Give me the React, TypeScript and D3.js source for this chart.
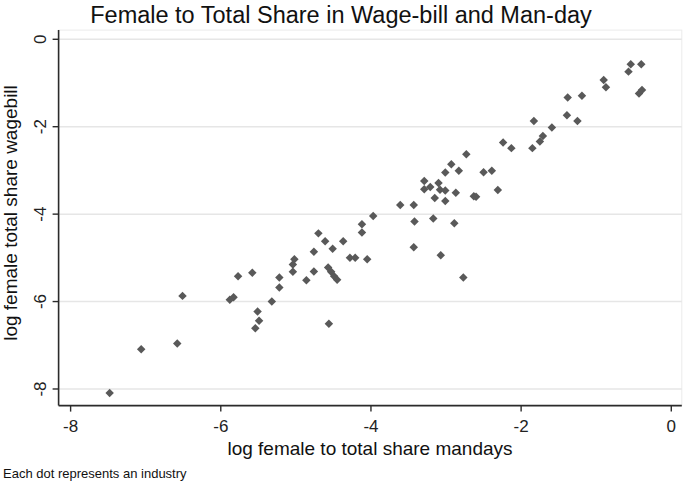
// App.tsx
import React from "react"
import * as d3 from "d3"

// log female to total share mandays
const mandays: number[] = [
    -7.48, -7.06, -6.58, -6.51, -5.88, -5.83, -5.77, -5.58, -5.51, -5.49,
    -5.54, -5.32, -5.22, -5.22, -5.04, -5.04, -5.02, -4.86, -4.76, -4.76,
    -4.70, -4.61, -4.51, -4.57, -4.53, -4.49, -4.45, -4.56, -4.37, -4.28,
    -4.21, -4.12, -4.12, -4.05, -3.97, -3.61, -3.43, -3.42, -3.43, -3.17,
    -3.07, -2.89, -2.77, -3.29, -3.29, -3.21, -3.10, -3.08, -3.01, -3.15,
    -3.01, -2.87, -2.63, -2.60, -3.01, -2.93, -2.83, -2.73, -2.50, -2.39,
    -2.31, -2.24, -2.13, -1.85, -1.75, -1.71, -1.83, -1.59, -1.39, -1.25,
    -1.38, -1.19, -0.90, -0.87, -0.57, -0.54, -0.40, -0.43, -0.39,
]

// log female total share wagebill
const wagebill: number[] = [
    -8.09, -7.09, -6.96, -5.87, -5.96, -5.90, -5.42, -5.34, -6.23, -6.44,
    -6.61, -6.00, -5.45, -5.68, -5.15, -5.32, -5.03, -5.51, -4.86, -5.31,
    -4.44, -4.62, -4.79, -5.22, -5.32, -5.42, -5.50, -6.51, -4.62, -5.00,
    -5.00, -4.23, -4.42, -5.03, -4.04, -3.79, -3.79, -4.17, -4.76, -4.10,
    -4.94, -4.21, -5.45, -3.24, -3.43, -3.38, -3.29, -3.44, -3.46, -3.63,
    -3.70, -3.51, -3.59, -3.60, -3.05, -2.86, -3.01, -2.63, -3.04, -3.01,
    -3.45, -2.36, -2.49, -2.49, -2.34, -2.21, -1.87, -2.02, -1.74, -1.87,
    -1.33, -1.29, -0.93, -1.10, -0.74, -0.57, -0.57, -1.24, -1.16,
]

const xTicks = [-8, -6, -4, -2, 0]
const yTicks = [0, -2, -4, -6, -8]

const width = 685
const height = 486
const font = "Liberation Sans, Arial, sans-serif"

export default function App() {
    const x = d3.scaleLinear().domain([-8.16, 0.14]).range([58.6, 681.8])
    const y = d3.scaleLinear().domain([0.21, -8.38]).range([30.1, 405.6])
    const [x0, x1] = x.range()
    const [y0, y1] = y.range()

    // Stata style diamond: a square turned 45 degrees
    const diamond = d3.symbol().type(d3.symbolSquare).size(36)() as string

    return (
        <svg
            width={width}
            height={height}
            style={{ position: "absolute", left: 0, top: 0, background: "#fff" }}
            fontFamily={font}
        >
            <rect x={0} y={0} width={width} height={height} fill="#fff" />

            {/* plot region outline */}
            <rect x={x0} y={y0} width={x1 - x0} height={y1 - y0} fill="none" stroke="#ececec" />

            {/* grid */}
            {yTicks.map((t) => (
                <line key={"g" + t} x1={x0} x2={x1} y1={y(t)} y2={y(t)} stroke="#e6e6e6" strokeWidth={1.5} />
            ))}

            {/* points */}
            {mandays.map((m, i) => (
                <path
                    key={i}
                    d={diamond}
                    transform={`translate(${x(m)},${y(wagebill[i])}) rotate(45)`}
                    fill="#595959"
                />
            ))}

            {/* y axis */}
            <line x1={x0} x2={x0} y1={y0} y2={y1} stroke="#2b2b2b" strokeWidth={1.6} />
            {yTicks.map((t) => (
                <g key={"y" + t}>
                    <line x1={x0 - 6} x2={x0} y1={y(t)} y2={y(t)} stroke="#2b2b2b" strokeWidth={1.4} />
                    <text
                        transform={`translate(46,${y(t)}) rotate(-90)`}
                        textAnchor="middle"
                        fontSize={17}
                        fill="#222"
                    >
                        {t}
                    </text>
                </g>
            ))}

            {/* x axis */}
            <line x1={x0} x2={x1} y1={y1} y2={y1} stroke="#2b2b2b" strokeWidth={1.6} />
            {xTicks.map((t) => (
                <g key={"x" + t}>
                    <line x1={x(t)} x2={x(t)} y1={y1} y2={y1 + 6} stroke="#2b2b2b" strokeWidth={1.4} />
                    <text x={x(t)} y={432} textAnchor="middle" fontSize={17} fill="#222">
                        {t}
                    </text>
                </g>
            ))}

            {/* labels */}
            <text x={341} y={23} textAnchor="middle" fontSize={23.5} fill="#111">
                Female to Total Share in Wage-bill and Man-day
            </text>
            <text transform="translate(17,213) rotate(-90)" textAnchor="middle" fontSize={19} fill="#111">
                log female total share wagebill
            </text>
            <text x={370} y={455} textAnchor="middle" fontSize={19} fill="#111">
                log female to total share mandays
            </text>
            <text x={3} y={478} fontSize={13} fill="#111">
                Each dot represents an industry
            </text>
        </svg>
    )
}
